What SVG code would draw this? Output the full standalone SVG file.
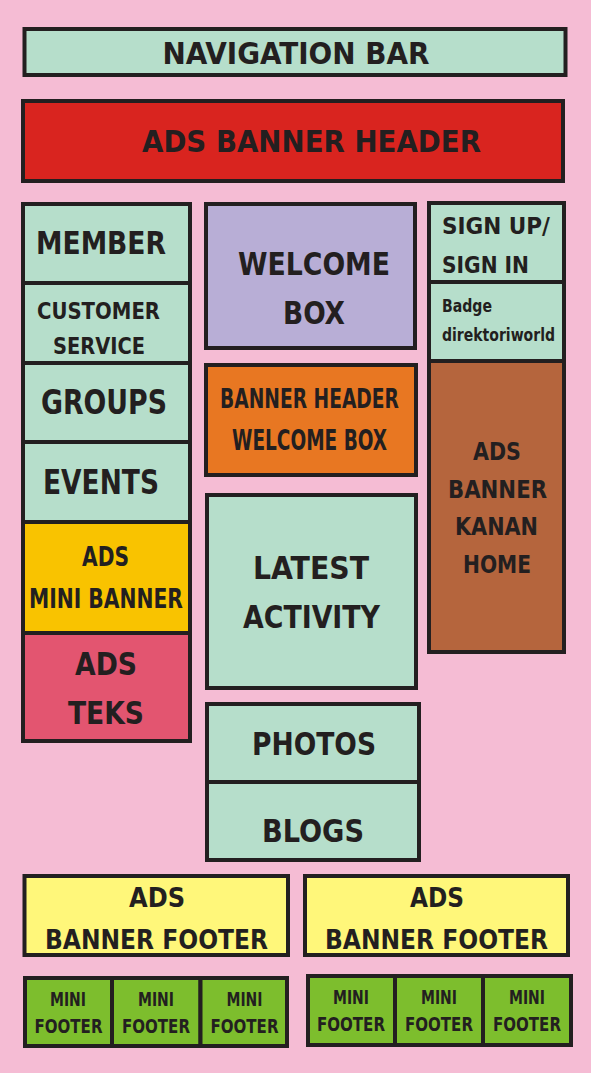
<svg xmlns="http://www.w3.org/2000/svg" width="591" height="1073" viewBox="0 0 591 1073">
<style>
.b{stroke:#231F20;stroke-width:4}
.m{fill:#B6DECB}
t,text{font-family:"DejaVu Sans Condensed","DejaVu Sans","Open Sans",sans-serif;font-weight:bold;fill:#231F20;text-anchor:middle}
.l{text-anchor:start}
</style>
<rect width="591" height="1073" fill="#F5BCD4"/>
<g id="connectors"/>
<g id="nav"><rect class="b m" x="24.5" y="29" width="541" height="46"/><text x="296" y="64" font-size="30" textLength="267" lengthAdjust="spacingAndGlyphs">NAVIGATION BAR</text></g>
<g id="header"><rect class="b" fill="#D9241F" x="23" y="101" width="540" height="80"/><text x="311.5" y="152" font-size="30" textLength="339" lengthAdjust="spacingAndGlyphs">ADS BANNER HEADER</text></g>
<g id="member"><rect class="b m" x="23" y="204" width="167" height="79"/><text x="101" y="254" font-size="31.5" textLength="130" lengthAdjust="spacingAndGlyphs">MEMBER</text></g>
<g id="customer"><rect class="b m" x="23" y="283" width="167" height="80"/><text x="98.5" y="319" font-size="23" textLength="123" lengthAdjust="spacingAndGlyphs">CUSTOMER</text><text x="99" y="354" font-size="23" textLength="92" lengthAdjust="spacingAndGlyphs">SERVICE</text></g>
<g id="groups"><rect class="b m" x="23" y="363" width="167" height="79"/><text x="104" y="414" font-size="33" textLength="126" lengthAdjust="spacingAndGlyphs">GROUPS</text></g>
<g id="events"><rect class="b m" x="23" y="442" width="167" height="80"/><text x="101" y="494" font-size="33" textLength="116" lengthAdjust="spacingAndGlyphs">EVENTS</text></g>
<g id="minibanner"><rect class="b" fill="#F9C300" x="23" y="522" width="167" height="111"/><text x="105.5" y="566" font-size="26" textLength="47" lengthAdjust="spacingAndGlyphs">ADS</text><text x="106" y="608" font-size="27" textLength="154" lengthAdjust="spacingAndGlyphs">MINI BANNER</text></g>
<g id="teks"><rect class="b" fill="#E35570" x="23" y="633" width="167" height="108"/><text x="106" y="675" font-size="31.5" textLength="62" lengthAdjust="spacingAndGlyphs">ADS</text><text x="106" y="724" font-size="31.5" textLength="76" lengthAdjust="spacingAndGlyphs">TEKS</text></g>
<g id="welcome"><rect class="b" fill="#B8AED6" x="206" y="204" width="209" height="144"/><text x="314" y="275" font-size="31.5" textLength="152" lengthAdjust="spacingAndGlyphs">WELCOME</text><text x="314" y="324" font-size="31.5" textLength="62" lengthAdjust="spacingAndGlyphs">BOX</text></g>
<g id="bannerwelcome"><rect class="b" fill="#E87722" x="206" y="365" width="210" height="110"/><text x="309.5" y="408" font-size="27" textLength="179" lengthAdjust="spacingAndGlyphs">BANNER HEADER</text><text x="309.5" y="450" font-size="28" textLength="155" lengthAdjust="spacingAndGlyphs">WELCOME BOX</text></g>
<g id="latest"><rect class="b m" x="207" y="495" width="209" height="193"/><text x="311" y="579" font-size="31.5" textLength="116" lengthAdjust="spacingAndGlyphs">LATEST</text><text x="311.5" y="628" font-size="31.5" textLength="137" lengthAdjust="spacingAndGlyphs">ACTIVITY</text></g>
<g id="photos"><rect class="b m" x="207" y="704" width="212" height="78"/><text x="314" y="755" font-size="31.5" textLength="124" lengthAdjust="spacingAndGlyphs">PHOTOS</text></g>
<g id="blogs"><rect class="b m" x="207" y="782" width="212" height="78"/><text x="313" y="842" font-size="31.5" textLength="102" lengthAdjust="spacingAndGlyphs">BLOGS</text></g>
<g id="signup"><rect class="b m" x="429" y="203" width="135" height="79"/><text class="l" x="442" y="234" font-size="22.5" textLength="108" lengthAdjust="spacingAndGlyphs">SIGN UP/</text><text class="l" x="442" y="273" font-size="22.5" textLength="87" lengthAdjust="spacingAndGlyphs">SIGN IN</text></g>
<g id="badge"><rect class="b m" x="429" y="282" width="135" height="79"/><text class="l" x="442" y="312" font-size="18" textLength="50" lengthAdjust="spacingAndGlyphs">Badge</text><text class="l" x="442" y="341" font-size="18" textLength="113" lengthAdjust="spacingAndGlyphs">direktoriworld</text></g>
<g id="kanan"><rect class="b" fill="#B5653D" x="429" y="361" width="135" height="291"/><text x="497" y="460" font-size="25" textLength="48" lengthAdjust="spacingAndGlyphs">ADS</text><text x="497.5" y="498" font-size="25" textLength="99" lengthAdjust="spacingAndGlyphs">BANNER</text><text x="496.5" y="535" font-size="25" textLength="83" lengthAdjust="spacingAndGlyphs">KANAN</text><text x="497" y="573" font-size="25" textLength="68" lengthAdjust="spacingAndGlyphs">HOME</text></g>
<g id="footer1"><rect class="b" fill="#FFF77A" x="24.5" y="876" width="263.5" height="79"/><text x="157" y="907" font-size="26" textLength="56" lengthAdjust="spacingAndGlyphs">ADS</text><text x="156.5" y="949" font-size="26" textLength="223" lengthAdjust="spacingAndGlyphs">BANNER FOOTER</text></g>
<g id="footer2"><rect class="b" fill="#FFF77A" x="305" y="876" width="263" height="79"/><text x="437" y="907" font-size="26" textLength="54" lengthAdjust="spacingAndGlyphs">ADS</text><text x="436.5" y="949" font-size="26" textLength="223" lengthAdjust="spacingAndGlyphs">BANNER FOOTER</text></g>
<g id="mini1"><rect class="b" fill="#7DBE2D" x="25" y="978" width="87" height="68"/><text x="68" y="1006" font-size="19" textLength="36" lengthAdjust="spacingAndGlyphs">MINI</text><text x="68.5" y="1033" font-size="19" textLength="68" lengthAdjust="spacingAndGlyphs">FOOTER</text></g>
<g id="mini2"><rect class="b" fill="#7DBE2D" x="112" y="978" width="88.5" height="68"/><text x="156" y="1006" font-size="19" textLength="36" lengthAdjust="spacingAndGlyphs">MINI</text><text x="156" y="1033" font-size="19" textLength="68" lengthAdjust="spacingAndGlyphs">FOOTER</text></g>
<g id="mini3"><rect class="b" fill="#7DBE2D" x="200.5" y="978" width="86.5" height="68"/><text x="244.5" y="1006" font-size="19" textLength="36" lengthAdjust="spacingAndGlyphs">MINI</text><text x="244.5" y="1033" font-size="19" textLength="68" lengthAdjust="spacingAndGlyphs">FOOTER</text></g>
<g id="mini4"><rect class="b" fill="#7DBE2D" x="308" y="976" width="87" height="69"/><text x="351" y="1004" font-size="19" textLength="36" lengthAdjust="spacingAndGlyphs">MINI</text><text x="351" y="1031" font-size="19" textLength="68" lengthAdjust="spacingAndGlyphs">FOOTER</text></g>
<g id="mini5"><rect class="b" fill="#7DBE2D" x="395" y="976" width="88" height="69"/><text x="439" y="1004" font-size="19" textLength="36" lengthAdjust="spacingAndGlyphs">MINI</text><text x="439" y="1031" font-size="19" textLength="68" lengthAdjust="spacingAndGlyphs">FOOTER</text></g>
<g id="mini6"><rect class="b" fill="#7DBE2D" x="483" y="976" width="88" height="69"/><text x="527" y="1004" font-size="19" textLength="36" lengthAdjust="spacingAndGlyphs">MINI</text><text x="527" y="1031" font-size="19" textLength="68" lengthAdjust="spacingAndGlyphs">FOOTER</text></g>
</svg>
